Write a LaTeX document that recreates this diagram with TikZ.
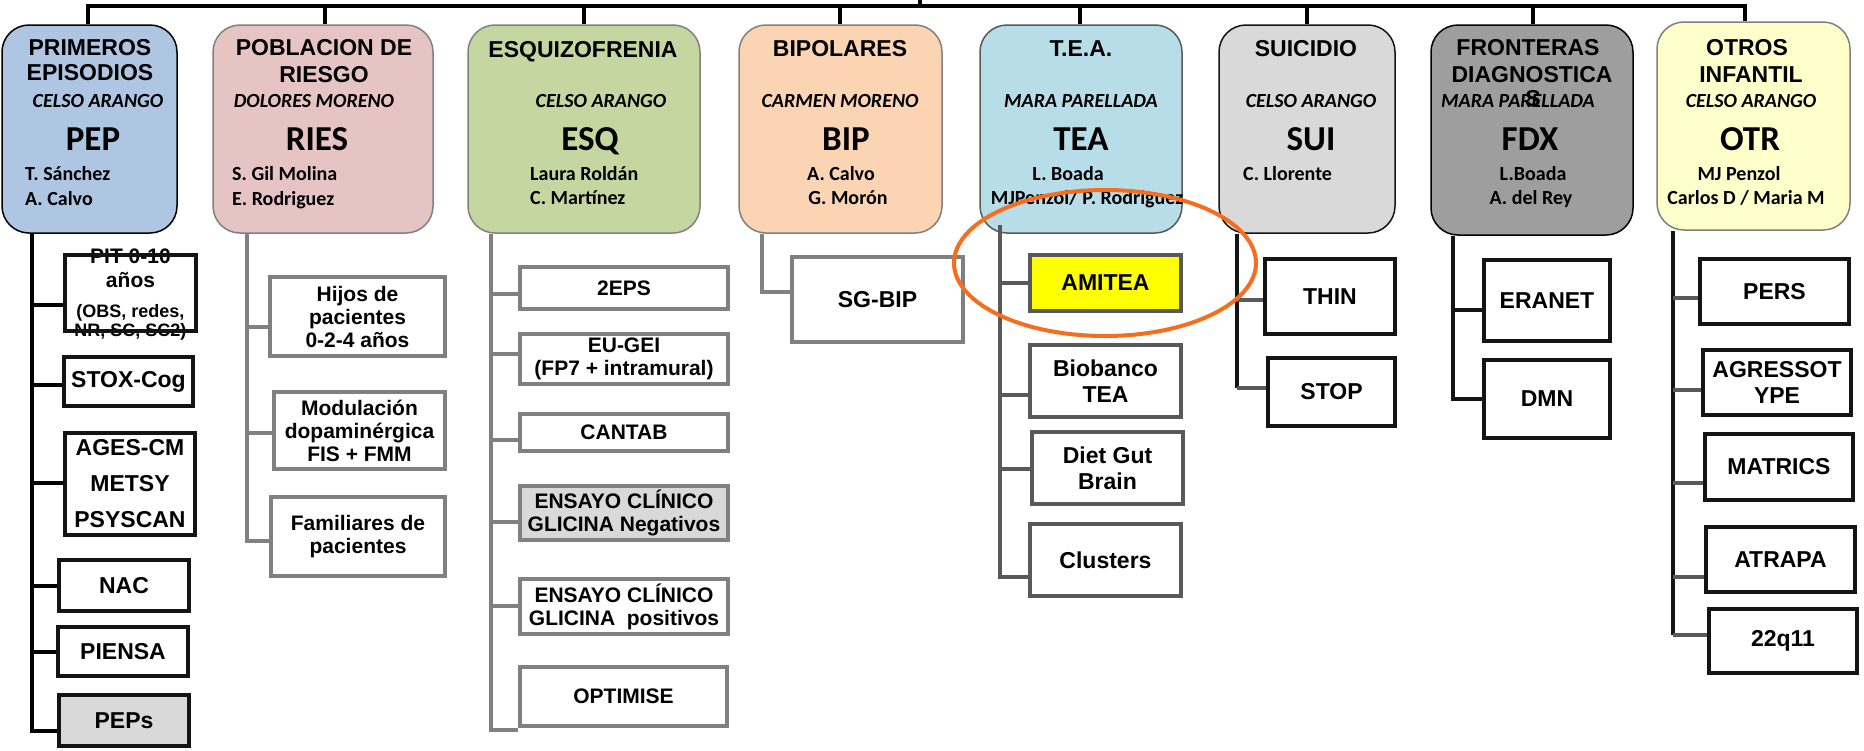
\documentclass[tikz,border=0pt]{standalone}
\usepackage{fontspec}
\setmainfont{Liberation Sans}
\newfontfamily\calib{Carlito}
\usetikzlibrary{shapes.geometric}
\definecolor{cPEP}{RGB}{175,198,226}
\definecolor{cRIES}{RGB}{230,196,196}
\definecolor{cESQ}{RGB}{196,215,160}
\definecolor{cBIP}{RGB}{251,212,180}
\definecolor{cTEA}{RGB}{183,222,232}
\definecolor{cSUI}{RGB}{217,217,217}
\definecolor{cFDX}{RGB}{158,158,158}
\definecolor{cOTR}{RGB}{255,255,204}
\definecolor{cGray}{RGB}{217,217,217}
\definecolor{gA}{RGB}{128,128,128}
\definecolor{gB}{RGB}{89,89,89}
\definecolor{kB}{RGB}{20,20,20}
\definecolor{cYel}{RGB}{255,255,0}
\definecolor{cOra}{RGB}{245,110,30}
\newcommand\kbox[7]{\node[#6, minimum width={#4-#2-4}, minimum height={#5-#3-4}] (#1) at ({(#2+#4)/2},{(#3+#5)/2}) {#7};}
\tikzset{
  hbox/.style={rounded corners=27pt, line width=1.5pt, inner sep=0pt},
  ht/.style={anchor=base, inner sep=0pt, font=\bfseries\fontsize{23}{25}\selectfont},
  hi/.style={anchor=base, inner sep=0pt, font=\calib\bfseries\itshape\fontsize{20}{22}\selectfont},
  hc/.style={anchor=base, inner sep=0pt, font=\calib\bfseries\fontsize{35}{40}\selectfont},
  hn/.style={anchor=base, inner sep=0pt, font=\calib\bfseries\fontsize{20}{22}\selectfont},
  hnw/.style={hn, anchor=base west},
  kid/.style={draw=kB, line width=4pt, inner sep=0pt, align=center, font=\bfseries\fontsize{23}{26}\selectfont},
  kidS/.style={kid, font=\bfseries\fontsize{21}{23}\selectfont},
  conn/.style={line width=4pt},
  busline/.style={line width=4.5pt, black},
  pt/.style={anchor=base, inner sep=0pt, font=\bfseries\fontsize{#1}{#1}\selectfont}
}
\begin{document}
\begin{tikzpicture}[x=1pt,y=-1pt]
\fill[white] (0,0) rectangle (1864,750);
\useasboundingbox (0,0) rectangle (1864,750);

% ---------- header boxes ----------
\node[hbox, draw=black, fill=cPEP, minimum width=175, minimum height=208] (pep) at (89.5,129) {};
\node[hbox, draw=gA, fill=cRIES, minimum width=220, minimum height=208] (ries) at (323,129) {};
\node[hbox, draw=gA, fill=cESQ, minimum width=232, minimum height=208] (esq) at (584,129) {};
\node[hbox, draw=gA, fill=cBIP, minimum width=203, minimum height=208] (bip) at (840.5,129) {};
\node[hbox, draw=gB, fill=cTEA, minimum width=202, minimum height=208] (tea) at (1081,129) {};
\node[hbox, draw=kB, fill=cSUI, minimum width=176, minimum height=208] (sui) at (1307,129) {};
\node[hbox, draw=black, fill=cFDX, minimum width=202, minimum height=210] (fdx) at (1532,130) {};
\node[hbox, draw=gA, fill=cOTR, minimum width=193, minimum height=208] (otr) at (1753.5,126) {};

% ---------- top bus ----------
\coordinate (root) at (920,0);
\coordinate (t1) at (88,6);
\coordinate (t2) at (325,6);
\coordinate (t3) at (584,6);
\coordinate (t4) at (840,6);
\coordinate (t5) at (1080,6);
\coordinate (t6) at (1307,6);
\coordinate (t7) at (1533,6);
\coordinate (t8) at (1745,6);
\draw[busline] (root) -- (root |- t1);
\draw[busline] (t1 |- pep.north) -- (t1) -- (t8) -- (t8 |- otr.north);
\foreach \t/\b in {t2/ries, t3/esq, t4/bip, t5/tea, t6/sui, t7/fdx}
  \draw[conn, black] (\t) -- (\t |- \b.north);

% ---------- header texts ----------
\node[ht] (pepA) at (90,55) {PRIMEROS};
\node[ht] (pepB) at (90,80) {EPISODIOS};
\node[hi] (pepC) at (98,107) {CELSO ARANGO};
\node[hc] (pepD) at (93,150) {PEP};
\node[hnw] (pepE) at (25,180) {T. Sánchez};
\node[hnw] (pepF) at (25,205) {A. Calvo};

\node[ht] (riesA) at (324,55) {POBLACION DE};
\node[ht] (riesB) at (324,82) {RIESGO};
\node[hi] (riesC) at (314,107) {DOLORES MORENO};
\node[hc] (riesD) at (317,150) {RIES};
\node[hnw] (riesE) at (232,180) {S. Gil Molina};
\node[hnw] (riesF) at (232,205) {E. Rodriguez};

\node[ht] (esqA) at (583,57) {ESQUIZOFRENIA};
\node[hi] (esqC) at (601,107) {CELSO ARANGO};
\node[hc] (esqD) at (590,150) {ESQ};
\node[hnw] (esqE) at (530,180) {Laura Roldán};
\node[hnw] (esqF) at (530,204) {C. Martínez};

\node[ht] (bipA) at (840,56) {BIPOLARES};
\node[hi] (bipC) at (840,107) {CARMEN MORENO};
\node[hc] (bipD) at (846,150) {BIP};
\node[hn] (bipE) at (841,180) {A. Calvo};
\node[hn] (bipF) at (848,204) {G. Morón};

\node[ht] (teaA) at (1081,56) {T.E.A.};
\node[hi] (teaC) at (1081,107) {MARA PARELLADA};
\node[hc] (teaD) at (1081,150) {TEA};
\node[hn] (teaE) at (1068,180) {L. Boada};
\node[hn] (teaF) at (1087,204) {MJPenzol/ P. Rodriguez};

\node[ht] (suiA) at (1306,56) {SUICIDIO};
\node[hi] (suiC) at (1311,107) {CELSO ARANGO};
\node[hc] (suiD) at (1311,150) {SUI};
\node[hnw] (suiE) at (1243,180) {C. Llorente};

\node[ht] (fdxA) at (1528,55) {FRONTERAS};
\node[ht] (fdxB) at (1532,82) {DIAGNOSTICA};
\node[hi] (fdxC) at (1518,107) {MARA PARELLADA};
\node[ht] (fdxS) at (1533,106) {S};
\node[hc] (fdxD) at (1530,150) {FDX};
\node[hn] (fdxE) at (1533,180) {L.Boada};
\node[hn] (fdxF) at (1531,204) {A. del Rey};

\node[ht] (otrA) at (1747,55) {OTROS};
\node[ht] (otrB) at (1751,82) {INFANTIL};
\node[hi] (otrC) at (1751,107) {CELSO ARANGO};
\node[hc] (otrD) at (1750,150) {OTR};
\node[hn] (otrE) at (1739,180) {MJ Penzol};
\node[hn] (otrF) at (1746,204) {Carlos D / Maria M};

% ---------- PEP children ----------
\node[pt=21] (pitA) at (130.5,263) {PIT 0-10};
\node[pt=21] (pitB) at (130.5,287) {años};
\node[pt=18] (pitC) at (130.5,317) {(OBS, redes,};
\node[pt=18] (pitD) at (130.5,336) {NR, SC, SC2)};
\kbox{pit}{63}{253}{198}{333}{kid}{}
\kbox{stox}{62}{355}{195}{408}{kid}{STOX-Cog}
\kbox{ages}{63}{431}{197}{537}{kid, font=\bfseries\fontsize{23}{36}\selectfont}{AGES-CM\\METSY\\PSYSCAN}
\kbox{nac}{57}{558}{191}{613}{kid}{NAC}
\kbox{piensa}{56}{625}{190}{678}{kid}{PIENSA}
\kbox{peps}{57}{693}{191}{748}{kid, fill=cGray}{PEPs}
\coordinate (pepX) at (32,0);
\draw[conn, black] (pepX |- pep.south) -- (pepX |- 0,731) -- (peps.west |- 0,731);
\foreach \n/\y in {pit/305, stox/385, ages/483, nac/586, piensa/652}
  \draw[conn, black] (pepX |- 0,\y) -- (\n.west |- 0,\y);

% ---------- RIES children ----------
\kbox{hijos}{268}{275}{447}{358}{kidS, draw=gA}{Hijos de\\pacientes\\0-2-4 años}
\kbox{modul}{272}{390}{447}{471}{kidS, draw=gA}{Modulación\\dopaminérgica\\FIS + FMM}
\kbox{famil}{269}{495}{447}{578}{kidS, draw=gA}{Familiares de\\pacientes}
\coordinate (riesX) at (247,0);
\draw[conn, gA] (riesX |- ries.south) -- (riesX |- 0,541) -- (famil.west |- 0,541);
\foreach \n/\y in {hijos/327, modul/433}
  \draw[conn, gA] (riesX |- 0,\y) -- (\n.west |- 0,\y);

% ---------- ESQ children ----------
\kbox{epsb}{518}{265}{730}{311}{kidS, draw=gA}{2EPS}
\kbox{eugei}{518}{332}{730}{386}{kidS, draw=gA}{EU-GEI\\(FP7 + intramural)}
\kbox{cantab}{518}{412}{730}{453}{kidS, draw=gA}{CANTAB}
\kbox{ensneg}{518}{484}{730}{542}{kidS, draw=gA, fill=cGray}{ENSAYO CLÍNICO\\GLICINA Negativos}
\kbox{enspos}{518}{577}{730}{636}{kidS, draw=gA}{ENSAYO CLÍNICO\\GLICINA\ \ positivos}
\kbox{optim}{518}{665}{729}{728}{kidS, draw=gA}{OPTIMISE}
\coordinate (esqX) at (491,0);
\draw[conn, gA] (esqX |- esq.south) -- (esqX |- 0,730) -- (optim.west |- 0,730);
\foreach \n/\y in {epsb/294, eugei/354, cantab/440, ensneg/522, enspos/606}
  \draw[conn, gA] (esqX |- 0,\y) -- (\n.west |- 0,\y);

% ---------- BIP child ----------
\kbox{sgbip}{790}{255}{965}{344}{kid, draw=gA}{SG-BIP}
\coordinate (bipX) at (762,0);
\draw[conn, gA] (bipX |- bip.south) -- (bipX |- 0,292) -- (sgbip.west |- 0,292);

% ---------- TEA children ----------
\kbox{amitea}{1028}{253}{1183}{313}{kid, draw=gB, fill=cYel}{AMITEA}
\kbox{bioban}{1028}{343}{1183}{419}{kid, draw=gB}{Biobanco\\TEA}
\kbox{diet}{1030}{430}{1185}{506}{kid, draw=gB}{Diet Gut\\Brain}
\kbox{clust}{1028}{522}{1183}{598}{kid, draw=gB}{Clusters}
\coordinate (teaX) at (1000,0);
\draw[conn, gB] (teaX |- 0,225) -- (teaX |- 0,577) -- (clust.west |- 0,577);
\foreach \n/\y in {amitea/283, bioban/395, diet/469}
  \draw[conn, gB] (teaX |- 0,\y) -- (\n.west |- 0,\y);

% ---------- SUI children ----------
\kbox{thin}{1263}{257}{1397}{336}{kid}{THIN}
\kbox{stop}{1266}{356}{1397}{428}{kid}{STOP}
\coordinate (suiX) at (1237,0);
\draw[conn, kB] (suiX |- sui.south) -- (suiX |- 0,388);
\draw[conn, gB] (suiX |- 0,300) -- (thin.west |- 0,300);
\draw[conn, gB] (suiX |- 0,388) -- (stop.west |- 0,388);

% ---------- FDX children ----------
\kbox{eranet}{1482}{258}{1612}{343}{kid}{ERANET}
\kbox{dmn}{1482}{358}{1612}{440}{kid}{DMN}
\coordinate (fdxX) at (1453,0);
\draw[conn, kB] (fdxX |- fdx.south) -- (fdxX |- 0,399) -- (dmn.west |- 0,399);
\draw[conn, kB] (fdxX |- 0,310) -- (eranet.west |- 0,310);

% ---------- OTR children ----------
\kbox{pers}{1698}{257}{1851}{326}{kid}{PERS}
\kbox{agres}{1701}{348}{1853}{417}{kid}{AGRESSOT\\YPE}
\kbox{matrics}{1703}{432}{1855}{502}{kid}{MATRICS}
\kbox{atrapa}{1704}{525}{1857}{594}{kid}{ATRAPA}
\kbox{qdd}{1707}{607}{1859}{675}{kid}{22q11}
\coordinate (otrX) at (1673,0);
\draw[conn, kB] (otrX |- otr.south) -- (otrX |- 0,635);
\foreach \n/\y in {pers/298, agres/390, matrics/483, atrapa/577, qdd/635}
  \draw[conn, gB] (otrX |- 0,\y) -- (\n.west |- 0,\y);

% ---------- highlight ring ----------
\node[ellipse, draw=cOra, line width=4pt, minimum width=302, minimum height=146, inner sep=0pt] (ring) at (1105,263) {};
\end{tikzpicture}
\end{document}
